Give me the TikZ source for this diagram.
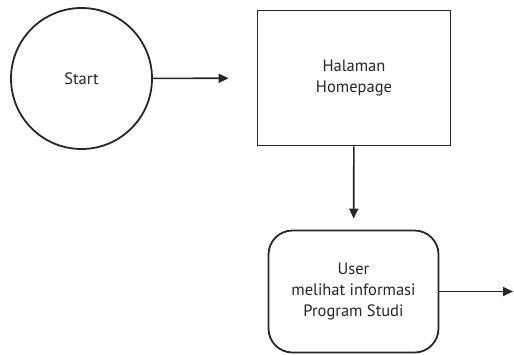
\documentclass[tikz,border=0pt]{standalone}
\usepackage{fontspec}
\setmainfont{PT Sans}
\usetikzlibrary{arrows.meta}
\begin{document}
\begin{tikzpicture}[x=1pt,y=1pt,
    box/.style={draw=black!85,line width=1.8pt,align=center,font=\fontsize{16.5}{21}\selectfont,text=black!85,inner sep=0pt},
    flow/.style={-{Triangle[length=10pt,width=9pt]},line width=1.6pt,black!85}]
  \useasboundingbox (0,0) rectangle (514,-354);
  % nodes
  \node[box,circle,minimum size=141pt] (start) at (81.5,-78.5) {Start};
  \node[box,rectangle,minimum width=193pt,minimum height=135pt] (homepage) at (354,-78) {Halaman\\Homepage};
  \node[box,rectangle,rounded corners=24pt,minimum width=170pt,minimum height=122pt] (info) at (353.5,-291.5) {User\\melihat informasi\\Program Studi};
  \coordinate (end) at (513,-291.5);
  % arrows
  \draw[flow,shorten >=28pt] (start) -- (homepage);
  \draw[flow,shorten >=11pt] (homepage) -- (info);
  \draw[flow] (info) -- (end);
\end{tikzpicture}
\end{document}
